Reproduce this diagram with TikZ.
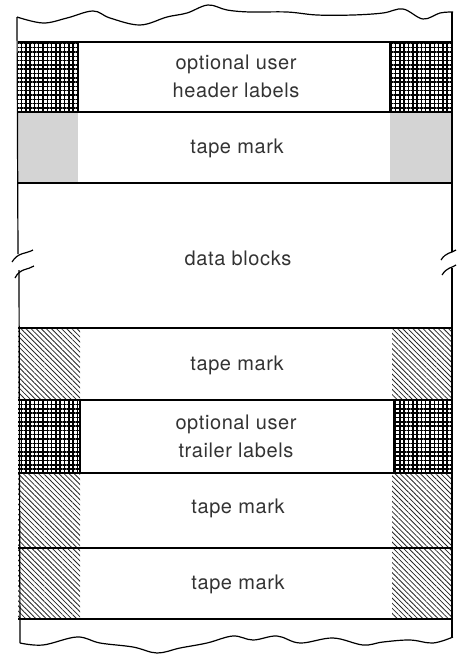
\documentclass[tikz,border=0pt]{standalone}
\usepackage{fontspec}
\setmainfont{TeX Gyre Heros}[LetterSpace=3]
\usetikzlibrary{patterns.meta}

\tikzset{
  edge/.style={line width=1.2pt, line join=round},
  gridpatch/.style={pattern={Hatch[angle=0, distance=4.3pt, line width=1.5pt]}, pattern color=black},
  hatchpatch/.style={pattern={Lines[angle=-45, distance=3.6pt, line width=0.8pt]}, pattern color=black!85},
  dotpatch/.style={fill=black!17},
  lbl/.style={text=black!80, font=\fontsize{20}{28}\selectfont, align=center}
}

\begin{document}
\begin{tikzpicture}[x=1pt, y=-1pt]
    \useasboundingbox (0,0) rectangle (456,654);

    % Side patches of each band
    \fill[gridpatch] (18,42) rectangle (78,112);
    \fill[gridpatch] (390,42) rectangle (452,112);
    \fill[dotpatch] (18,112) rectangle (78,183);
    \fill[dotpatch] (390,112) rectangle (452,183);
    \foreach \ya/\yb in {328/400, 473/548, 548/619} {
        \fill[hatchpatch] (18,\ya) rectangle (80,\yb);
        \fill[hatchpatch] (392,\ya) rectangle (452,\yb);
    }
    \fill[gridpatch] (18,400) rectangle (80,473);
    \fill[gridpatch] (394,400) rectangle (452,473);

    % Inner edges of the patches
    \draw[edge] (78,42) -- (78,112);
    \draw[edge] (390,42) -- (390,112);
    \draw[edge] (80,400) -- (80,473);
    \draw[edge] (394,400) -- (394,473);

    % Band boundaries
    \foreach \y in {42, 112, 183, 328, 400, 473, 548, 619}
        \draw[edge] (18,\y) -- (452,\y);

    % Torn tape ends
    \draw[edge] plot[smooth, tension=0.6] coordinates {
        (17,17) (43,23) (67,18) (93,11) (110,18) (140,25) (167,17) (187,13)
        (208,5) (227,10) (250,12) (287,12) (317,15) (353,15) (383,13)
        (403,9) (423,19) (440,13) (453,12)};
    \draw[edge] plot[smooth, tension=0.6] coordinates {
        (20,643) (43,645) (77,637) (100,643) (133,647) (157,653) (180,648)
        (207,643) (233,636) (253,640) (277,636) (300,643) (333,638)
        (363,645) (383,642) (410,640) (433,643) (453,637)};

    % Side edges with break marks
    \draw[edge] (17,17) -- (18,254);
    \draw[edge] (19,270) -- (20,643);
    \draw[edge] (12,262) .. controls (18,252) and (26,254) .. (33,250);
    \draw[edge] (15,278) .. controls (20,268) and (28,270) .. (34,266);
    \draw[edge] (452,12) -- (452,252);
    \draw[edge] (452,268) -- (452,637);
    \draw[edge] (441,260) .. controls (446,252) and (452,253) .. (456,250);
    \draw[edge] (442,275) .. controls (447,267) and (452,268) .. (456,265);

    % Labels
    \node (hdr) at (236,76) [lbl] {optional user\\header labels};
    \node (tm1) at (237,148) [lbl] {tape mark};
    \node (data) at (238,258) [lbl] {data blocks};
    \node (tm2) at (237,365) [lbl] {tape mark};
    \node (trl) at (236,436) [lbl] {optional user\\trailer labels};
    \node (tm3) at (238,508) [lbl] {tape mark};
    \node (tm4) at (238,584) [lbl] {tape mark};
\end{tikzpicture}
\end{document}
